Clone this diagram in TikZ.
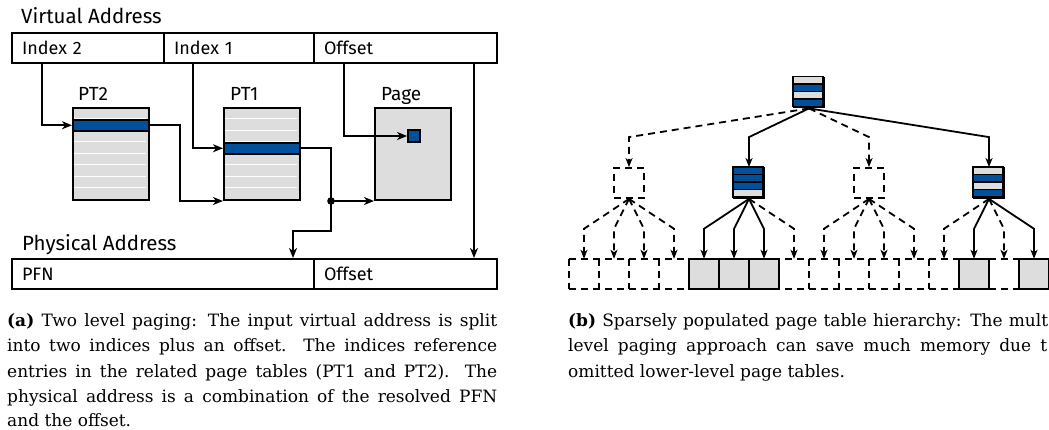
\documentclass[tikz,border=0pt]{standalone}
\usepackage{fontspec}
\setmainfont{DejaVu Serif}
\newfontfamily\diagfont{Fira Sans}
\usetikzlibrary{arrows.meta,calc}
\definecolor{entryblue}{RGB}{0,80,155}
\definecolor{tablegray}{RGB}{221,221,221}
\tikzset{
    ptarrow/.style={line width=1.8pt,-{Stealth[length=10pt,width=8pt,inset=3pt]}},
    addrfield/.style={draw,line width=2pt,minimum height=30pt,inner xsep=10pt,inner ysep=0pt,anchor=north west,align=left,font=\diagfont\fontsize{18}{21}\selectfont},
    heading/.style={anchor=base west,inner sep=0pt,font=\diagfont\fontsize{20.5}{24}\selectfont},
    pagetab/.style={draw,line width=2pt,fill=tablegray,minimum width=76pt,minimum height=92pt,anchor=north west,inner sep=0pt},
    ptentry/.style={draw,line width=2pt,fill=entryblue,minimum width=76pt,minimum height=11.5pt,anchor=north west,inner sep=0pt},
    treebox/.style={draw,line width=1.8pt,minimum size=30pt,inner sep=0pt},
    treerow/.style={draw,line width=1.5pt},
    ghost/.style={dash pattern=on 7pt off 5pt},
    treearrow/.style={line width=1.8pt,-{Stealth[length=9pt,width=7pt,inset=2.5pt]}},
    ghostarrow/.style={treearrow,ghost},
    captext/.style={anchor=base west,inner sep=0pt,font=\fontsize{17}{21}\selectfont},
}
\newcommand{\tablerows}[2]{%
  \foreach \c [count=\i from 0] in {#2}
    \draw[treerow,fill=\c] ($(#1.north west)+(0,7.5*\i)$) rectangle ++(30,7.5);
}

\begin{document}
\begin{tikzpicture}[x=1pt,y=-1pt]
\useasboundingbox (0,0) rectangle (1049,429);
\clip (0,0) rectangle (1049,429);

% (a) two level paging
\node[heading] (va) at (21,23.5) {Virtual Address};
\node[addrfield,text width=132pt] (idx2) at (11,32) {Index 2};
\node[addrfield,text width=130pt] (idx1) at (163,32) {Index 1};
\node[addrfield,text width=163pt] (voff) at (313,32) {Offset};

\node[pagetab] (pt2) at (72,107) {};
\node[pagetab] (pt1) at (223,107) {};
\node[pagetab] (page) at (374,107) {};
\foreach \t in {pt2,pt1}
  \foreach \r in {1,...,7}
    \draw[white,line width=1pt] ($(\t.north west)+(2,11.5*\r)$) -- ++(72,0);
\node[ptentry] (pt2e) at ($(pt2.north west)+(0,11.5)$) {};
\node[ptentry] (pt1e) at ($(pt1.north west)+(0,34.5)$) {};
\node[draw,line width=1.8pt,fill=entryblue,minimum size=12pt,inner sep=0pt] (byte) at (414,136) {};

\node[heading,font=\diagfont\fontsize{19}{22}\selectfont] (pt2l) at ($(pt2.north west)+(6,-7)$) {PT2};
\node[heading,font=\diagfont\fontsize{19}{22}\selectfont] (pt1l) at ($(pt1.north west)+(7,-7)$) {PT1};
\node[heading,font=\diagfont\fontsize{19}{22}\selectfont] (pagel) at ($(page.north west)+(7,-7)$) {Page};

\node[heading] (pa) at (22,250) {Physical Address};
\node[addrfield,text width=282pt] (pfn) at (11,258) {PFN};
\node[addrfield,text width=163pt] (poff) at (313,258) {Offset};

\draw[ptarrow] ([xshift=31pt]idx2.south west) |- (pt2e.west);
\draw[ptarrow] ([xshift=30pt]idx1.south west) |- (pt1e.west);
\draw[ptarrow] ([xshift=31pt]voff.south west) |- (byte.west);
\draw[ptarrow] (pt2e.east) -- ++(30,0) |- (pt1.south west);
\path (pt1e.east) ++(30,0) coordinate (bend);
\coordinate (split) at (bend |- page.south);
\draw[ptarrow] (pt1e.east) -- (bend) -- (split) -- (page.south west);
\draw[ptarrow] (split) -- ++(0,30) -| ([xshift=-22pt]pfn.north east);
\fill (split) circle (3.8pt);
\draw[ptarrow] ([xshift=-24pt]voff.south east) -- ([xshift=-24pt]poff.north east);

% (b) sparse hierarchy
\node[treebox] (root) at (809,92.5) {};
\tablerows{root}{tablegray,entryblue,tablegray,entryblue}
\node[treebox,ghost] (t0) at (629,183) {};
\node[treebox] (t1) at (749,183) {};
\node[treebox,ghost] (t2) at (869,183) {};
\node[treebox] (t3) at (989,183) {};
\tablerows{t1}{entryblue,entryblue,entryblue,tablegray}
\tablerows{t3}{tablegray,entryblue,tablegray,entryblue}

\foreach \i in {0,...,15}
  \node[minimum size=30pt,inner sep=0pt] (l\i) at (584+30*\i,274) {};
\draw[line width=1.8pt,ghost] (l0.north west) -- (l15.north east);
\draw[line width=1.8pt,ghost] (l0.south west) -- (l15.south east);
\foreach \i in {0,...,15}
  \draw[line width=1.8pt,ghost] (l\i.north west) -- (l\i.south west);
\foreach \i in {4,5,6,13,15}
  \draw[line width=1.8pt,fill=tablegray] (l\i.north west) rectangle (l\i.south east);

\foreach \n/\s in {0/ghostarrow,1/treearrow,2/ghostarrow,3/treearrow}
  \draw[\s] (root.south) -- ([yshift=30pt]t\n.north) -- (t\n.north);
\foreach \p/\l/\s in {0/0/ghostarrow,0/1/ghostarrow,0/2/ghostarrow,0/3/ghostarrow,
    1/4/treearrow,1/5/treearrow,1/6/treearrow,1/7/ghostarrow,
    2/8/ghostarrow,2/9/ghostarrow,2/10/ghostarrow,2/11/ghostarrow,
    3/12/ghostarrow,3/13/treearrow,3/14/ghostarrow,3/15/treearrow}
  \draw[\s] (t\p.south) -- ([yshift=30pt]l\l.north) -- (l\l.north);

% captions
\node[captext] (capa1) at (7,326) {\makebox[490pt][s]{\textbf{(a)} Two level paging: The input virtual address is split}};
\node[captext] (capa2) at (7,351.6) {\makebox[490pt][s]{into two indices plus an offset. The indices reference}};
\node[captext] (capa3) at (7,377.2) {\makebox[490pt][s]{entries in the related page tables (PT1 and PT2). The}};
\node[captext] (capa4) at (7,402.8) {\makebox[490pt][s]{physical address is a combination of the resolved PFN}};
\node[captext] (capa5) at (7,426) {and the offset.};
\node[captext] (capb1) at (568,326) {\makebox[480pt][s]{\textbf{(b)} Sparsely populated page table hierarchy: The mult}};
\node[captext] (capb2) at (568,351.6) {\makebox[479pt][s]{level paging approach can save much memory due t}};
\node[captext] (capb3) at (568,377.2) {omitted lower-level page tables.};
\end{tikzpicture}
\end{document}
